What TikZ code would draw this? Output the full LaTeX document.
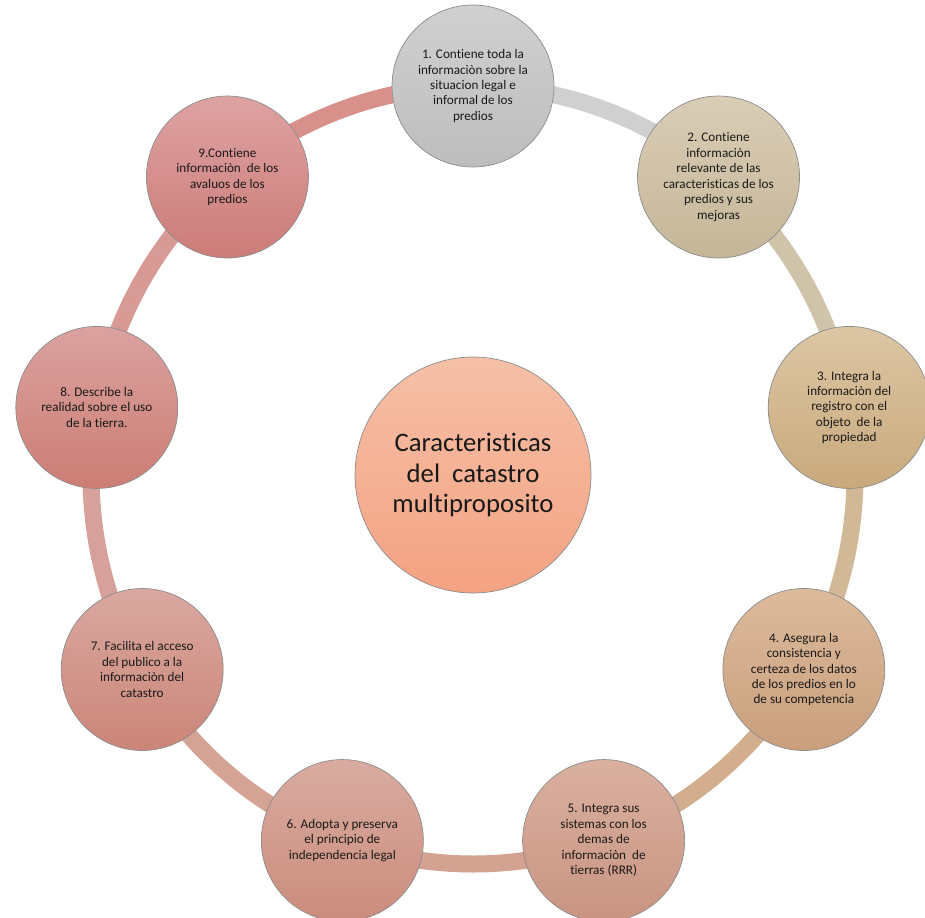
\documentclass[tikz,border=0pt]{standalone}
\usepackage{fontspec}
\setmainfont{Carlito}[Ligatures=NoCommon]
\usetikzlibrary{calc}
\definecolor{ringA}{HTML}{D0D0D0}
\definecolor{ringB}{HTML}{CFC3AA}
\definecolor{ringC}{HTML}{D1B896}
\definecolor{ringD}{HTML}{D2AE8E}
\definecolor{ringE}{HTML}{D3A290}
\definecolor{ringF}{HTML}{D4A394}
\definecolor{ringG}{HTML}{D6A19A}
\definecolor{ringH}{HTML}{D89A95}
\definecolor{ringI}{HTML}{D8908B}
\definecolor{coreT}{HTML}{F5C0A7}
\definecolor{coreB}{HTML}{F4A282}
\definecolor{oneT}{HTML}{D0D0D0}   \definecolor{oneB}{HTML}{BDBDBD}
\definecolor{twoT}{HTML}{D9CDB6}   \definecolor{twoB}{HTML}{C6B698}
\definecolor{threeT}{HTML}{DCC6A4} \definecolor{threeB}{HTML}{C9A97C}
\definecolor{fourT}{HTML}{DCBA9C}  \definecolor{fourB}{HTML}{C99F7C}
\definecolor{fiveT}{HTML}{DAB09F}  \definecolor{fiveB}{HTML}{C99482}
\definecolor{sixT}{HTML}{D9ABA0}   \definecolor{sixB}{HTML}{CB8C7C}
\definecolor{sevenT}{HTML}{D9A8A0} \definecolor{sevenB}{HTML}{CC8578}
\definecolor{eightT}{HTML}{DBA2A0} \definecolor{eightB}{HTML}{CC7D74}
\definecolor{nineT}{HTML}{DEA2A2}  \definecolor{nineB}{HTML}{CC7C78}
\tikzset{
  item/.style={circle,draw=black!45,line width=.4pt,top color=#1T,bottom color=#1B,
    minimum size=3.24cm,inner sep=0pt,align=center,text=black!90,
    font=\fontsize{7.5}{8.8}\selectfont},
  core/.style={circle,draw=black!45,line width=.4pt,top color=coreT,bottom color=coreB,
    minimum size=4.72cm,inner sep=0pt,align=center,text=black!90,
    font=\fontsize{15.2}{17.2}\selectfont},
  ring/.style={line width=0.34cm},
}
\pgfdeclarelayer{back}
\pgfsetlayers{back,main}

\begin{document}
\begin{tikzpicture}[x=0.02cm,y=0.02cm]
    \useasboundingbox (0,0) rectangle (925,917);
    \coordinate (O) at (473,442);
    \node[core] (M) at (O) {Caracteristicas\\del\ \ catastro\\multiproposito};
    \node[item=one] (c1) at ($(O)+(90:382 and 389)$)
        {1. Contiene toda la\\informaciòn sobre la\\situacion legal e\\informal de los\\predios};
    \node[item=two] (c2) at ($(O)+(50:382 and 389)$)
        {2. Contiene\\informaciòn\\relevante de las\\caracteristicas de los\\predios y sus\\mejoras};
    \node[item=three] (c3) at ($(O)+(10:382 and 389)$)
        {3. Integra la\\informaciòn del\\registro con el\\objeto\ \ de la\\propiedad};
    \node[item=four] (c4) at ($(O)+(-30:382 and 389)$)
        {4. Asegura la\\consistencia y\\certeza de los datos\\de los predios en lo\\de su competencia};
    \node[item=five] (c5) at ($(O)+(-70:382 and 389)$)
        {5. Integra sus\\sistemas con los\\demas de\\informaciòn\ \ de\\tierras (RRR)};
    \node[item=six] (c6) at ($(O)+(-110:382 and 389)$)
        {6. Adopta y preserva\\el principio de\\independencia legal};
    \node[item=seven] (c7) at ($(O)+(-150:382 and 389)$)
        {7. Facilita el acceso\\del publico a la\\informaciòn del\\catastro};
    \node[item=eight] (c8) at ($(O)+(170:382 and 389)$)
        {8. Describe la\\realidad sobre el uso\\de la tierra.};
    \node[item=nine] (c9) at ($(O)+(130:382 and 389)$)
        {9.Contiene\\informaciòn\ \ de los\\avaluos de los\\predios};
    \begin{pgfonlayer}{back}
    \draw[ring,ringA] (c1.center) arc[start angle=90,end angle=50,x radius=382,y radius=389];
    \draw[ring,ringB] (c2.center) arc[start angle=50,end angle=10,x radius=382,y radius=389];
    \draw[ring,ringC] (c3.center) arc[start angle=10,end angle=-30,x radius=382,y radius=389];
    \draw[ring,ringD] (c4.center) arc[start angle=-30,end angle=-70,x radius=382,y radius=389];
    \draw[ring,ringE] (c5.center) arc[start angle=-70,end angle=-110,x radius=382,y radius=389];
    \draw[ring,ringF] (c6.center) arc[start angle=-110,end angle=-150,x radius=382,y radius=389];
    \draw[ring,ringG] (c7.center) arc[start angle=-150,end angle=-190,x radius=382,y radius=389];
    \draw[ring,ringH] (c8.center) arc[start angle=170,end angle=130,x radius=382,y radius=389];
    \draw[ring,ringI] (c9.center) arc[start angle=130,end angle=90,x radius=382,y radius=389];
    \end{pgfonlayer}
\end{tikzpicture}
\end{document}
